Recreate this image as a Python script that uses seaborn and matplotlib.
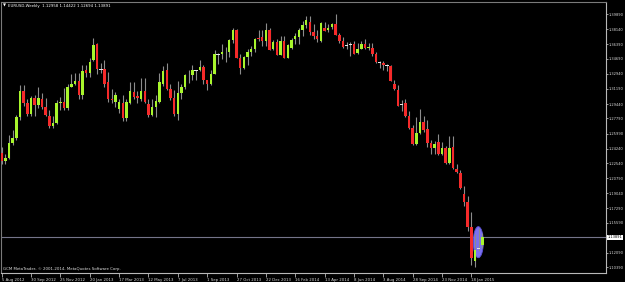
import numpy as np
import pandas as pd
import matplotlib
matplotlib.use("Agg")
import matplotlib.pyplot as plt
import matplotlib.transforms as mtransforms
from matplotlib.patches import Ellipse
import seaborn as sns

# ---------------- data (weekly EURUSD bars, 5 Aug 2012 .. 8 Feb 2015) ----------------
opens = [1.2370, 1.2275, 1.2320, 1.2490, 1.2550, 1.2795, 1.3100, 1.2950, 1.2830, 1.3010,
         1.2930, 1.3005, 1.2905, 1.2800, 1.2690, 1.2720, 1.2950, 1.2970, 1.2893, 1.3145,
         1.3180, 1.3210, 1.3048, 1.3340, 1.3300, 1.3457, 1.3643, 1.3348, 1.3350, 1.3200,
         1.3000, 1.2970, 1.2880, 1.2955, 1.2784, 1.2950, 1.3087, 1.3036, 1.3001, 1.3098,
         1.2943, 1.2815, 1.2905, 1.2970, 1.3176, 1.3345, 1.3120, 1.3010, 1.2830, 1.3070,
         1.3140, 1.3280, 1.3285, 1.3340, 1.3335, 1.3380, 1.3220, 1.3175, 1.3295, 1.3525,
         1.3522, 1.3555, 1.3545, 1.3685, 1.3805, 1.3485, 1.3365, 1.3495, 1.3555, 1.3590,
         1.3715, 1.3720, 1.3675, 1.3806, 1.3580, 1.3670, 1.3515, 1.3680, 1.3485, 1.3600,
         1.3705, 1.3728, 1.3806, 1.3864, 1.3903, 1.3786, 1.3736, 1.3681, 1.3833, 1.3810,
         1.3837, 1.3876, 1.3748, 1.3681, 1.3630, 1.3635, 1.3640, 1.3537, 1.3590, 1.3640,
         1.3595, 1.3600, 1.3525, 1.3430, 1.3420, 1.3400, 1.3390, 1.3176, 1.3107, 1.2940,
         1.2955, 1.2803, 1.2660, 1.2477, 1.2603, 1.2740, 1.2650, 1.2487, 1.2430, 1.2504,
         1.2357, 1.2430, 1.2252, 1.2445, 1.2185, 1.2142, 1.1900, 1.1804, 1.1512, 1.1110,
         1.1255, 1.12958]
highs = [1.2443, 1.2365, 1.2588, 1.2637, 1.2816, 1.3170, 1.3160, 1.3000, 1.3038, 1.3048,
         1.3140, 1.3072, 1.3019, 1.2878, 1.2801, 1.2990, 1.3020, 1.3127, 1.3173, 1.3290,
         1.3300, 1.3310, 1.3404, 1.3404, 1.3478, 1.3711, 1.3650, 1.3420, 1.3455, 1.3320,
         1.3113, 1.3080, 1.3000, 1.3050, 1.3000, 1.3203, 1.3203, 1.3092, 1.3242, 1.3243,
         1.3000, 1.2998, 1.3050, 1.3305, 1.3390, 1.3417, 1.3175, 1.3108, 1.3208, 1.3175,
         1.3297, 1.3345, 1.3400, 1.3345, 1.3452, 1.3395, 1.3225, 1.3345, 1.3570, 1.3540,
         1.3645, 1.3605, 1.3705, 1.3832, 1.3815, 1.3530, 1.3500, 1.3580, 1.3620, 1.3710,
         1.3810, 1.3810, 1.3893, 1.3830, 1.3685, 1.3700, 1.3740, 1.3740, 1.3640, 1.3715,
         1.3775, 1.3825, 1.3915, 1.3967, 1.3965, 1.3875, 1.3810, 1.3905, 1.3905, 1.3875,
         1.3890, 1.3993, 1.3770, 1.3730, 1.3670, 1.3670, 1.3675, 1.3650, 1.3675, 1.3700,
         1.3650, 1.3650, 1.3550, 1.3445, 1.3445, 1.3415, 1.3400, 1.3227, 1.3170, 1.2990,
         1.3000, 1.2865, 1.2700, 1.2790, 1.2885, 1.2800, 1.2760, 1.2530, 1.2510, 1.2600,
         1.2500, 1.2455, 1.2570, 1.2570, 1.2245, 1.2180, 1.1990, 1.1870, 1.1680, 1.1425,
         1.1500, 1.14422]
lows = [1.2241, 1.2240, 1.2300, 1.2471, 1.2520, 1.2760, 1.2926, 1.2802, 1.2810, 1.2803,
        1.2895, 1.2880, 1.2800, 1.2660, 1.2661, 1.2715, 1.2875, 1.2878, 1.2876, 1.3140,
        1.3165, 1.3000, 1.3000, 1.3256, 1.3257, 1.3440, 1.3290, 1.3300, 1.3144, 1.2966,
        1.2955, 1.2910, 1.2843, 1.2750, 1.2745, 1.2940, 1.3000, 1.2955, 1.2980, 1.2960,
        1.2795, 1.2800, 1.2795, 1.2950, 1.3150, 1.3110, 1.2990, 1.2805, 1.2755, 1.3005,
        1.3120, 1.3185, 1.3225, 1.3227, 1.3330, 1.3175, 1.3105, 1.3160, 1.3290, 1.3410,
        1.3465, 1.3430, 1.3495, 1.3650, 1.3480, 1.3295, 1.3355, 1.3400, 1.3500, 1.3545,
        1.3680, 1.3625, 1.3625, 1.3570, 1.3570, 1.3510, 1.3510, 1.3475, 1.3475, 1.3585,
        1.3640, 1.3640, 1.3735, 1.3830, 1.3750, 1.3705, 1.3670, 1.3672, 1.3790, 1.3780,
        1.3815, 1.3745, 1.3650, 1.3600, 1.3585, 1.3500, 1.3525, 1.3530, 1.3585, 1.3590,
        1.3575, 1.3500, 1.3420, 1.3365, 1.3335, 1.3330, 1.3210, 1.3105, 1.2915, 1.2860,
        1.2790, 1.2655, 1.2470, 1.2470, 1.2600, 1.2615, 1.2440, 1.2360, 1.2360, 1.2355,
        1.2350, 1.2245, 1.2245, 1.2190, 1.2140, 1.1955, 1.1755, 1.1460, 1.1068, 1.1046,
        1.1230, 1.12694]
closes = [1.2275, 1.2320, 1.2490, 1.2550, 1.2795, 1.3100, 1.2950, 1.2830, 1.3010, 1.2930,
          1.3010, 1.2905, 1.2815, 1.2690, 1.2720, 1.2950, 1.2970, 1.2893, 1.3145, 1.3180,
          1.3210, 1.3048, 1.3328, 1.3300, 1.3437, 1.3631, 1.3348, 1.3350, 1.3176, 1.3000,
          1.2990, 1.3048, 1.2970, 1.2784, 1.2970, 1.3098, 1.3021, 1.3010, 1.3098, 1.2970,
          1.2815, 1.2905, 1.2982, 1.3196, 1.3331, 1.3120, 1.3010, 1.2830, 1.3070, 1.3140,
          1.3280, 1.3285, 1.3340, 1.3335, 1.3380, 1.3220, 1.3175, 1.3295, 1.3525, 1.3522,
          1.3555, 1.3545, 1.3685, 1.3805, 1.3485, 1.3365, 1.3495, 1.3555, 1.3590, 1.3705,
          1.3700, 1.3675, 1.3810, 1.3573, 1.3670, 1.3515, 1.3680, 1.3485, 1.3630, 1.3690,
          1.3740, 1.3806, 1.3864, 1.3920, 1.3786, 1.3736, 1.3700, 1.3885, 1.3798, 1.3830,
          1.3876, 1.3748, 1.3681, 1.3611, 1.3630, 1.3640, 1.3530, 1.3590, 1.3640, 1.3595,
          1.3605, 1.3525, 1.3430, 1.3425, 1.3400, 1.3395, 1.3215, 1.3114, 1.2920, 1.2945,
          1.2800, 1.2660, 1.2477, 1.2603, 1.2740, 1.2643, 1.2487, 1.2430, 1.2477, 1.2357,
          1.2430, 1.2252, 1.2430, 1.2193, 1.2147, 1.1960, 1.1797, 1.1512, 1.1155, 1.1240,
          1.1260, 1.13891]

date_labels = ["5 Aug 2012", "30 Sep 2012", "25 Nov 2012", "20 Jan 2013", "17 Mar 2013",
               "12 May 2013", "7 Jul 2013", "1 Sep 2013", "27 Oct 2013", "22 Dec 2013",
               "16 Feb 2014", "13 Apr 2014", "8 Jun 2014", "3 Aug 2014", "28 Sep 2014",
               "23 Nov 2014", "18 Jan 2015"]
price_ticks = [1.39890, 1.38140, 1.36390, 1.34690, 1.32940, 1.31190, 1.29440, 1.27790,
               1.25990, 1.24240, 1.22540, 1.20790, 1.19040, 1.17290, 1.15590, 1.12090, 1.10390]
price_labels = ["1.39890", "1.38140", "1.36390", "1.34690", "1.32940", "1.31190", "1.29440",
                "1.27790", "1.25990", "1.24240", "1.22540", "1.20790", "1.19040", "1.17290",
                "1.15590", "1.12090", "1.10390"]
title_text = "EURUSD,Weekly  1.12958 1.14422 1.12694 1.13891"
current_price = 1.13891
copyright_text = "GCM MetaTrader, \u00a9 2001-2014, MetaQuotes Software Corp."

# ---------------- style ----------------
sns.set_theme(style="ticks")
plt.rcParams["font.family"] = ["DejaVu Sans"]
FS = 2.75
FS_Y = 2.6

W, H = 625, 282
fig = plt.figure(figsize=(W / 100, H / 100), dpi=100, facecolor="black")
ax = fig.add_axes([1 / W, (H - 272.5) / H, 605 / W, (272.5 - 1.5) / H])
ax.set_facecolor("black")

df = pd.DataFrame({"o": opens, "h": highs, "l": lows, "c": closes})
df["x"] = np.arange(len(df))
diff = df["c"] - df["o"]
bull = diff > 0.0006
bear = diff < -0.0006
doji = ~(bull | bear)

# current price line
ax.axhline(current_price, color="#74748a", lw=0.8, zorder=1)

# ellipse object drawn on chart
ax.add_patch(Ellipse((129.9, 1.1334), width=2.75, height=0.0362,
                     facecolor="#7b70f0", edgecolor="#5a50d8", lw=0.6, zorder=2))

# wicks
ax.vlines(df["x"], df["l"], df["h"], color="#8c8c8c", lw=0.8, zorder=3)
# bodies
ax.bar(df["x"][bull], diff[bull], bottom=df["o"][bull], width=0.68,
       color="#a8f52c", linewidth=0, zorder=4)
ax.bar(df["x"][bear], -diff[bear], bottom=df["c"][bear], width=0.68,
       color="#f52a2a", linewidth=0, zorder=4)
mid = (df["o"] + df["c"]) / 2
ax.bar(df["x"][doji], 0.0010, bottom=mid[doji] - 0.0005, width=0.95,
       color="#e6e6e6", linewidth=0, zorder=4)

ax.set_xlim(-0.19, 164.7)
ax.set_ylim(1.09807, 1.41383)

# axes frame
for side in ["left", "top"]:
    ax.spines[side].set_color("#7a7a7a")
    ax.spines[side].set_linewidth(0.8)
for side in ["right", "bottom"]:
    ax.spines[side].set_color("#b8b8b8")
    ax.spines[side].set_linewidth(0.8)

# price scale
ax.yaxis.tick_right()
ax.set_yticks(price_ticks)
ax.set_yticklabels(price_labels)
ax.tick_params(axis="y", length=1.5, width=0.6, color="#b8b8b8", labelcolor="#d8d8d8",
               labelsize=FS_Y, pad=0.5, direction="out", left=False, right=True)

# time scale
ax.set_xticks(np.arange(0, 8 * len(date_labels), 8))
ax.set_xticklabels(date_labels, ha="left")
ax.tick_params(axis="x", length=3, width=0.6, color="#b8b8b8", labelcolor="#d8d8d8",
               labelsize=FS, pad=1.0, direction="out")
ax.grid(False)

# current price box
trans = mtransforms.blended_transform_factory(ax.transAxes, ax.transData)
ax.text(1.0028, current_price, "1.13891", transform=trans, ha="left", va="center",
        fontsize=FS_Y, color="black", clip_on=False, zorder=10,
        bbox=dict(boxstyle="square,pad=0.15", fc="white", ec="white", lw=0))

# title and copyright
fig.text(3 / W, 1 - 5.5 / H, "\u25bc", fontsize=2.8, color="white", va="center",
         ha="left")
fig.text(8 / W, 1 - 5.5 / H, title_text, fontsize=FS, color="white", va="center", ha="left")
ax.text(2 / 605, 0.006, copyright_text, transform=ax.transAxes, fontsize=FS,
        color="#e0e0e0", va="bottom", ha="left")

fig.savefig("out.png", dpi=100, facecolor="black")
